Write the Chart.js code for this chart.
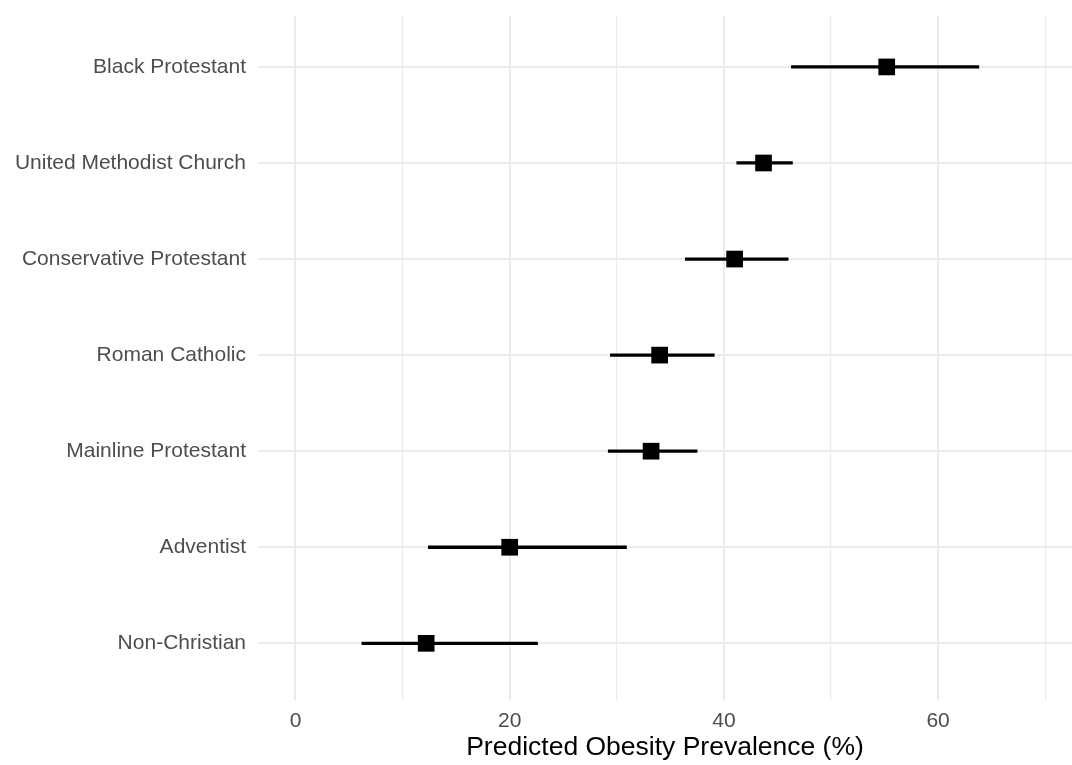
<!DOCTYPE html>
<html>
<head>
<meta charset="utf-8">
<script src="https://cdn.jsdelivr.net/npm/chart.js@4.4.1/dist/chart.umd.min.js"></script>
<style>
  html, body { margin: 0; padding: 0; background: #fff; }
  #wrap { width: 1072px; height: 765px; }
</style>
</head>
<body>
<div id="wrap"><canvas id="forest"></canvas></div>
<script>
// valores (de arriba hacia abajo)
const groups = ['Black Protestant', 'United Methodist Church', 'Conservative Protestant',
                'Roman Catholic', 'Mainline Protestant', 'Adventist', 'Non-Christian'];
const estimate = [55.2, 43.7, 41.0, 34.0, 33.2, 20.0, 12.2];
const lower    = [46.3, 41.2, 36.4, 29.4, 29.2, 12.4, 6.2];
const upper    = [63.8, 46.4, 46.0, 39.1, 37.5, 30.9, 22.6];
const gridValues = [0, 10, 20, 30, 40, 50, 60, 70];
const xLabels = [0, 20, 40, 60];

const FONT = "'Liberation Sans', Arial, Helvetica, sans-serif";
const GRID = '#ebebeb';

const ctx = document.getElementById('forest').getContext('2d');
new Chart(ctx, {
    type: 'bar',
    data: {
        datasets: [
            {
                type: 'bar',
                label: 'IC',
                data: groups.map((g, i) => ({ y: i, x: [lower[i], upper[i]] })),
                backgroundColor: '#000',
                borderWidth: 0,
                barThickness: 2.6,
                borderSkipped: false,
                order: 2
            },
            {
                type: 'scatter',
                label: 'Estimación',
                data: groups.map((g, i) => ({ y: i, x: estimate[i] })),
                pointStyle: 'rect',
                pointRadius: 11.8,
                pointBackgroundColor: '#000',
                pointBorderWidth: 0,
                order: 1
            }
        ]
    },
    options: {
        indexAxis: 'y',
        responsive: true,
        maintainAspectRatio: false,
        animation: false,
        layout: { autoPadding: false, padding: { top: 16, right: 0, bottom: 0, left: 0 } },
        plugins: {
            legend: { display: false },
            tooltip: { enabled: false }
        },
        scales: {
            x: {
                type: 'linear',
                min: -3.5,
                max: 72.5,
                afterBuildTicks: (scale) => { scale.ticks = gridValues.map(v => ({ value: v })); },
                afterFit: (scale) => { scale.height = 65; scale.paddingLeft = 0; scale.paddingRight = 0; },
                border: { display: false },
                grid: {
                    color: GRID,
                    lineWidth: (c) => (c.tick && c.tick.value % 20 === 0) ? 2 : 1.2,
                    drawTicks: false
                },
                ticks: {
                    padding: 9,
                    color: '#4d4d4d',
                    font: { family: FONT, size: 21 },
                    maxRotation: 0,
                    autoSkip: false,
                    callback: (v) => xLabels.includes(v) ? String(v) : ''
                },
                title: {
                    display: true,
                    text: 'Predicted Obesity Prevalence (%)',
                    color: '#000',
                    font: { family: FONT, size: 26.5 },
                    padding: { top: 0, bottom: 1 }
                }
            },
            y: {
                type: 'linear',
                reverse: true,
                offset: false,
                min: -0.53,
                max: 6.59,
                afterBuildTicks: (scale) => { scale.ticks = groups.map((g, i) => ({ value: i })); },
                afterFit: (scale) => { scale.width = 258; scale.paddingTop = 0; scale.paddingBottom = 0; },
                border: { display: false },
                grid: { color: GRID, lineWidth: 2, drawTicks: false, offset: false },
                ticks: {
                    padding: 12,
                    color: '#4d4d4d',
                    font: { family: FONT, size: 21 },
                    autoSkip: false,
                    callback: (v) => groups[v] ?? ''
                }
            }
        }
    }
});
</script>
</body>
</html>
